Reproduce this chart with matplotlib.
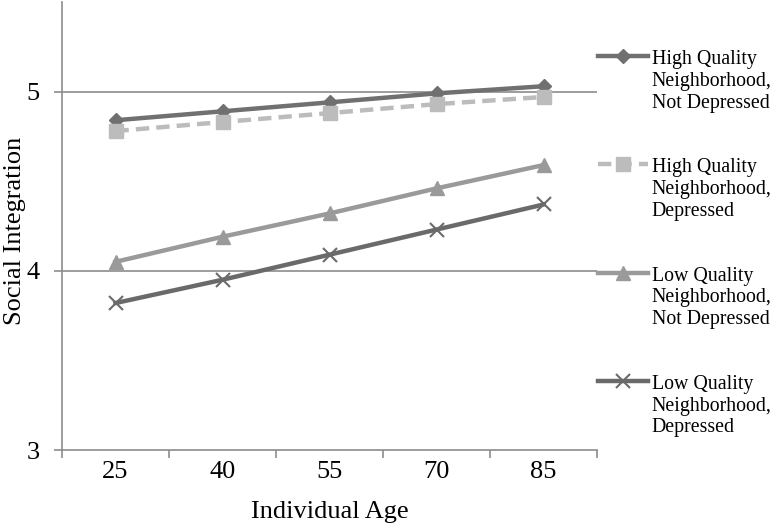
import matplotlib
matplotlib.use('Agg')
import matplotlib.pyplot as plt
from matplotlib.legend_handler import HandlerLine2D

plt.rcParams['font.family'] = ['Liberation Serif', 'DejaVu Serif']

# data
ages = ['25', '40', '55', '70', '85']
hqNotDep = [4.84, 4.89, 4.94, 4.99, 5.03]
hqDep = [4.78, 4.83, 4.88, 4.93, 4.97]
lqNotDep = [4.05, 4.19, 4.32, 4.46, 4.59]
lqDep = [3.82, 3.95, 4.09, 4.23, 4.37]
labels = ['High Quality\nNeighborhood,\nNot Depressed',
          'High Quality\nNeighborhood,\nDepressed',
          'Low Quality\nNeighborhood,\nNot Depressed',
          'Low Quality\nNeighborhood,\nDepressed']


class HandlerTop(HandlerLine2D):
    """Put the legend handle on the first line of a 3-line label."""

    def create_artists(self, legend, orig_handle, xdescent, ydescent,
                       width, height, fontsize, trans):
        shift = 2.55 * fontsize
        return super().create_artists(legend, orig_handle, xdescent,
                                      ydescent - shift, width, height,
                                      fontsize, trans)


fig = plt.figure(figsize=(7.8, 5.27), dpi=100)
ax = fig.add_axes([62 / 780, 1 - 450 / 527, 535 / 780, 448 / 527])

x = range(len(ages))
ha = []
ha += ax.plot(x, hqNotDep, '-', color='#707070', lw=3.2, marker='D', ms=7,
              label=labels[0])
ha += ax.plot(x, hqDep, '--', color='#bcbcbc', lw=3.2, marker='s', ms=10,
              dashes=(3, 1.6), label=labels[1])
ha += ax.plot(x, lqNotDep, '-', color='#9a9a9a', lw=3.2, marker='^', ms=10,
              label=labels[2])
ha += ax.plot(x, lqDep, '-', color='#6a6a6a', lw=3.2, marker='x', ms=10,
              mew=1.5, label=labels[3])

ax.set_xlim(-0.5, len(ages) - 0.5)
ax.set_ylim(3, 5.5)
ax.set_yticks([3, 4, 5])
ax.set_xticks(x)
ax.set_xticklabels(ages)
ax.set_xticks([i - 0.5 for i in range(len(ages) + 1)], minor=True)
for y in [4, 5]:
    ax.axhline(y, color='#8c8c8c', lw=1.2, zorder=0)

for s in ['top', 'right']:
    ax.spines[s].set_visible(False)
for s in ['left', 'bottom']:
    ax.spines[s].set_color('#8c8c8c')
    ax.spines[s].set_linewidth(1.2)
ax.tick_params(axis='x', which='major', length=0, labelsize=19, pad=8)
ax.tick_params(axis='x', which='minor', length=6, color='#8c8c8c', width=1.2)
ax.tick_params(axis='y', length=6, color='#8c8c8c', width=1.2, labelsize=19,
               pad=10)

ax.set_xlabel('Individual Age', fontsize=19, va='center')
ax.xaxis.set_label_coords(0.5, -62 / 448)
ax.set_ylabel('Social Integration', fontsize=19, va='center')
ax.yaxis.set_label_coords(-47 / 535, 0.49)

leg = ax.legend(handles=ha, loc='upper left',
                bbox_to_anchor=(598 / 780, 1 - 50 / 527),
                bbox_transform=fig.transFigure, frameon=False, fontsize=14.3,
                handlelength=2.5, handletextpad=0.2, labelspacing=2.3,
                borderpad=0, borderaxespad=0,
                handler_map={h: HandlerTop() for h in ha})

fig.savefig('out.png', dpi=100)
